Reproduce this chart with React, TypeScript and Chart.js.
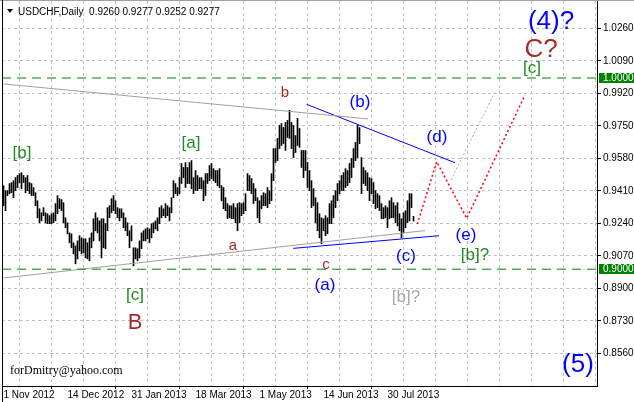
import React, { useEffect, useRef } from 'react';
import { Chart, registerables } from 'chart.js';

Chart.register(...registerables);

// ---------- data ----------
const barHigh = [
  0.9437, 0.9411, 0.9411, 0.9448, 0.9453, 0.9463, 0.9479, 0.9490, 0.9500, 0.9505,
  0.9490, 0.9479, 0.9490, 0.9453, 0.9448, 0.9427, 0.9400, 0.9358, 0.9316, 0.9295,
  0.9322, 0.9295, 0.9290, 0.9280, 0.9290, 0.9295, 0.9343, 0.9385, 0.9369, 0.9364,
  0.9348, 0.9269, 0.9243, 0.9190, 0.9185, 0.9138, 0.9122, 0.9148, 0.9175, 0.9164,
  0.9159, 0.9159, 0.9138, 0.9164, 0.9190, 0.9264, 0.9295, 0.9269, 0.9253, 0.9264,
  0.9264, 0.9238, 0.9322, 0.9332, 0.9369, 0.9385, 0.9358, 0.9322, 0.9316, 0.9316,
  0.9295, 0.9269, 0.9243, 0.9201, 0.9227, 0.9112, 0.9112, 0.9107, 0.9148, 0.9190,
  0.9201, 0.9211, 0.9217, 0.9211, 0.9238, 0.9243, 0.9253, 0.9269, 0.9322, 0.9332,
  0.9316, 0.9343, 0.9332, 0.9322, 0.9374, 0.9463, 0.9448, 0.9427, 0.9479, 0.9553,
  0.9532, 0.9558, 0.9532, 0.9558, 0.9568, 0.9479, 0.9516, 0.9490, 0.9479, 0.9479,
  0.9463, 0.9500, 0.9500, 0.9542, 0.9553, 0.9526, 0.9516, 0.9516, 0.9526, 0.9437,
  0.9427, 0.9374, 0.9343, 0.9332, 0.9332, 0.9343, 0.9322, 0.9343, 0.9348, 0.9343,
  0.9348, 0.9395, 0.9500, 0.9490, 0.9474, 0.9448, 0.9421, 0.9374, 0.9358, 0.9385,
  0.9400, 0.9395, 0.9427, 0.9411, 0.9500, 0.9631, 0.9631, 0.9684, 0.9752, 0.9762,
  0.9741, 0.9768, 0.9778, 0.9831, 0.9768, 0.9752, 0.9699, 0.9789, 0.9736, 0.9621,
  0.9621, 0.9621, 0.9558, 0.9516, 0.9463, 0.9421, 0.9374, 0.9348, 0.9290, 0.9269,
  0.9264, 0.9280, 0.9269, 0.9343, 0.9358, 0.9385, 0.9411, 0.9448, 0.9463, 0.9490,
  0.9505, 0.9526, 0.9516, 0.9553, 0.9579, 0.9631, 0.9663, 0.9752, 0.9741, 0.9584,
  0.9532, 0.9516, 0.9505, 0.9479, 0.9474, 0.9453, 0.9411, 0.9395, 0.9385, 0.9343,
  0.9322, 0.9332, 0.9322, 0.9358, 0.9374, 0.9348, 0.9332, 0.9348, 0.9290, 0.9264,
  0.9295, 0.9306, 0.9358, 0.9395, 0.9395, 0.9277,
];
const barLow = [
  0.9332, 0.9306, 0.9385, 0.9395, 0.9400, 0.9374, 0.9411, 0.9427, 0.9453, 0.9421,
  0.9453, 0.9400, 0.9411, 0.9395, 0.9385, 0.9385, 0.9332, 0.9269, 0.9243, 0.9253,
  0.9280, 0.9243, 0.9238, 0.9238, 0.9238, 0.9243, 0.9253, 0.9290, 0.9316, 0.9306,
  0.9243, 0.9217, 0.9185, 0.9138, 0.9112, 0.9080, 0.9028, 0.9054, 0.9096, 0.9080,
  0.9086, 0.9059, 0.9054, 0.9044, 0.9112, 0.9148, 0.9201, 0.9190, 0.9148, 0.9059,
  0.9112, 0.9107, 0.9201, 0.9269, 0.9295, 0.9306, 0.9290, 0.9269, 0.9253, 0.9269,
  0.9217, 0.9201, 0.9175, 0.9112, 0.9148, 0.9017, 0.9054, 0.9044, 0.9059, 0.9107,
  0.9148, 0.9148, 0.9159, 0.9138, 0.9164, 0.9190, 0.9211, 0.9201, 0.9238, 0.9269,
  0.9280, 0.9269, 0.9280, 0.9253, 0.9295, 0.9374, 0.9395, 0.9385, 0.9395, 0.9448,
  0.9479, 0.9427, 0.9448, 0.9448, 0.9421, 0.9395, 0.9411, 0.9411, 0.9421, 0.9421,
  0.9358, 0.9385, 0.9448, 0.9463, 0.9474, 0.9463, 0.9453, 0.9437, 0.9427, 0.9358,
  0.9316, 0.9306, 0.9264, 0.9269, 0.9264, 0.9264, 0.9243, 0.9201, 0.9243, 0.9280,
  0.9290, 0.9306, 0.9411, 0.9411, 0.9395, 0.9343, 0.9358, 0.9269, 0.9243, 0.9316,
  0.9332, 0.9332, 0.9322, 0.9343, 0.9358, 0.9463, 0.9558, 0.9568, 0.9631, 0.9647,
  0.9657, 0.9621, 0.9689, 0.9684, 0.9631, 0.9584, 0.9610, 0.9647, 0.9637, 0.9532,
  0.9479, 0.9516, 0.9427, 0.9411, 0.9322, 0.9332, 0.9243, 0.9201, 0.9164, 0.9133,
  0.9201, 0.9175, 0.9185, 0.9238, 0.9238, 0.9269, 0.9322, 0.9358, 0.9395, 0.9411,
  0.9411, 0.9427, 0.9437, 0.9453, 0.9479, 0.9532, 0.9568, 0.9584, 0.9657, 0.9395,
  0.9448, 0.9437, 0.9411, 0.9358, 0.9395, 0.9343, 0.9316, 0.9322, 0.9306, 0.9264,
  0.9264, 0.9269, 0.9217, 0.9264, 0.9269, 0.9269, 0.9243, 0.9227, 0.9201, 0.9164,
  0.9190, 0.9217, 0.9243, 0.9253, 0.9322, 0.9252,
];

const dateTickIndex = [0, 32, 64, 96, 128, 160, 192];
const dateTickLabels = ['1 Nov 2012', '14 Dec 2012', '31 Jan 2013', '18 Mar 2013', '1 May 2013', '14 Jun 2013', '30 Jul 2013'];
const priceTicks = [1.026, 1.009, 0.992, 0.975, 0.958, 0.941, 0.924, 0.907, 0.89, 0.873, 0.856];
const levelPrices = [1.0, 0.9];
const titleText = 'USDCHF,Daily  0.9260 0.9277 0.9252 0.9277';
const authorText = 'forDmitry@yahoo.com';

// trend / projection lines: bar index and price of their points
const grayUpperX = [0, 182.25];
const grayUpperY = [0.9969, 0.9786];
const grayLowerX = [0, 210.75];
const grayLowerY = [0.8954, 0.9202];
const blueUpperX = [151.6, 225.75];
const blueUpperY = [0.9862, 0.9557];
const blueLowerX = [144.9, 217.75];
const blueLowerY = [0.9109, 0.9175];
const redPathX = [206.9, 216.6, 231.6, 260.75];
const redPathY = [0.9236, 0.9562, 0.9266, 0.9911];
const grayPathX = [223.75, 245.75];
const grayPathY = [0.9467, 0.9927];

// wave labels: text, bar index, price
const waveText = ['(4)?', 'C?', '[c]', '(5)', '[b]', '[a]', 'b', '(b)', '(d)', 'a', 'c', '(a)', '(c)', '(e)', '[b]?', '[b]?', '[c]', 'B'];
const waveX = [273.75, 268.75, 264.25, 287.25, 9.25, 93.75, 140.75, 178.25, 216.75, 114.75, 161.25, 160.75, 201.25, 231.25, 235.75, 201.25, 65.75, 65.75];
const waveY = [1.0293, 1.0146, 1.0052, 0.8499, 0.9608, 0.966, 0.9922, 0.9874, 0.9691, 0.9121, 0.9022, 0.8917, 0.9069, 0.9179, 0.9074, 0.8855, 0.8865, 0.8719];

// ---------- styling / layout ----------
const W = 634;
const H = 402;
const PL = 2;
const PT = 1;
const PR = 597;
const PB = 386;
const PX_PER_UNIT = 1912;
const Y_ONE = 78;
const yMax = 1 + (Y_ONE - PT) / PX_PER_UNIT;
const yMin = 1 - (PB - Y_ONE) / PX_PER_UNIT;
const xMin = -0.75;
const xMax = xMin + (PR - PL) / 2;

const BLUE = '#0000ff';
const BROWN = '#a52a2a';
const GREEN = '#1f8a1f';
const SILVER = '#a9a9a9';
const waveColor = [BLUE, BROWN, GREEN, BLUE, GREEN, GREEN, BROWN, BLUE, BLUE, BROWN, BROWN, BLUE, BLUE, BLUE, GREEN, SILVER, GREEN, BROWN];
const waveSize = [26, 26, 17, 26, 17, 17, 15, 17, 17, 15, 15, 17, 17, 17, 17, 17, 17, 22];
const FONT = '"Liberation Sans", Arial, sans-serif';

const pts = (xs: number[], ys: number[]) => xs.map((x, k) => ({ x, y: ys[k] }));

const lineDs = (xs: number[], ys: number[], color: string, width: number, dash: number[]) => ({
  type: 'line' as const,
  data: pts(xs, ys),
  borderColor: color,
  borderWidth: width,
  borderDash: dash,
  pointRadius: 0,
  fill: false,
  tension: 0,
  order: 0,
});

const decorPlugin = {
  id: 'decor',
  beforeDraw(chart: any) {
    const { ctx } = chart;
    ctx.save();
    ctx.fillStyle = '#ffffff';
    ctx.fillRect(0, 0, W, H);
    ctx.restore();
  },
  afterDatasetsDraw(chart: any) {
    const { ctx, scales } = chart;
    const xs = scales.x;
    const ys = scales.y;
    ctx.save();
    ctx.textAlign = 'center';
    ctx.textBaseline = 'middle';
    waveText.forEach((t, k) => {
      ctx.font = `${waveSize[k]}px ${FONT}`;
      ctx.fillStyle = waveColor[k];
      ctx.fillText(t, xs.getPixelForValue(waveX[k]), ys.getPixelForValue(waveY[k]));
    });
    ctx.restore();
  },
  afterDraw(chart: any) {
    const { ctx, scales, chartArea } = chart;
    const ys = scales.y;
    ctx.save();
    // window frame lines
    ctx.strokeStyle = '#a0a0a0';
    ctx.lineWidth = 1;
    ctx.beginPath();
    ctx.moveTo(0, 0.5);
    ctx.lineTo(W, 0.5);
    ctx.stroke();
    ctx.strokeStyle = '#000';
    ctx.beginPath();
    ctx.moveTo(chartArea.left + 0.5, 0);
    ctx.lineTo(chartArea.left + 0.5, H);
    ctx.stroke();
    // level boxes on the price axis
    levelPrices.forEach((p) => {
      const py = Math.round(ys.getPixelForValue(p));
      ctx.fillStyle = '#008000';
      ctx.fillRect(chartArea.right + 2, py - 5, W - chartArea.right - 2, 10);
      ctx.fillStyle = '#ffffff';
      ctx.font = `10px ${FONT}`;
      ctx.textAlign = 'left';
      ctx.textBaseline = 'middle';
      ctx.fillText(p.toFixed(4), chartArea.right + 6, py + 0.5);
    });
    // title
    ctx.fillStyle = '#000';
    ctx.beginPath();
    ctx.moveTo(7, 9);
    ctx.lineTo(13, 9);
    ctx.lineTo(10, 13);
    ctx.closePath();
    ctx.fill();
    ctx.font = `10px ${FONT}`;
    ctx.textAlign = 'left';
    ctx.textBaseline = 'alphabetic';
    ctx.fillText(titleText, 18, 15);
    // author
    ctx.font = '12px "Liberation Serif", "Times New Roman", serif';
    ctx.fillText(authorText, 10, 374);
    ctx.restore();
  },
};

export default function App() {
  const ref = useRef<HTMLCanvasElement | null>(null);

  useEffect(() => {
    if (!ref.current) return;
    const bars = barHigh.map((h, i) => ({ x: i, y: [barLow[i], h] }));
    const chart = new Chart(ref.current, {
      type: 'bar',
      data: {
        datasets: [
          {
            type: 'bar',
            data: bars as any,
            backgroundColor: '#000000',
            borderWidth: 0,
            barThickness: 1,
            order: 1,
          } as any,
          ...levelPrices.map((p) => lineDs([xMin, xMax], [p, p], '#008000', 1, [9, 6])),
          lineDs(grayUpperX, grayUpperY, '#a0a0a0', 1, []),
          lineDs(grayLowerX, grayLowerY, '#a0a0a0', 1, []),
          lineDs(blueUpperX, blueUpperY, BLUE, 1, []),
          lineDs(blueLowerX, blueLowerY, BLUE, 1, []),
          lineDs(grayPathX, grayPathY, '#a8a8a8', 1, [2, 2]),
          lineDs(redPathX, redPathY, '#ff0000', 1.5, [2, 2.5]),
        ] as any,
      },
      options: {
        animation: false,
        responsive: false,
        maintainAspectRatio: false,
        devicePixelRatio: 1,
        layout: { padding: { left: PL, top: PT, right: 0, bottom: 0 } },
        plugins: { legend: { display: false }, tooltip: { enabled: false }, title: { display: false } },
        scales: {
          x: {
            type: 'linear',
            min: xMin,
            max: xMax,
            offset: false,
            afterBuildTicks: (s: any) => {
              const t: any[] = [];
              for (let v = 0; v <= xMax; v += 16) t.push({ value: v });
              s.ticks = t;
            },
            afterFit: (s: any) => {
              s.height = H - PB;
              s.paddingLeft = 0;
              s.paddingRight = 0;
            },
            ticks: {
              autoSkip: false,
              maxRotation: 0,
              minRotation: 0,
              align: 'start',
              padding: 0,
              color: '#000',
              font: { family: FONT, size: 10 },
              callback: (v: any) => {
                const k = dateTickIndex.indexOf(Number(v));
                return k >= 0 ? dateTickLabels[k] : '';
              },
            },
            grid: {
              color: '#c0c0c0',
              lineWidth: 1,
              drawTicks: true,
              tickLength: 3,
              tickWidth: 1,
              tickColor: (c: any) => (c.tick && dateTickIndex.includes(c.tick.value) ? '#000' : 'rgba(0,0,0,0)'),
            },
            border: { display: true, color: '#000', width: 1, dash: [3, 3] },
          },
          y: {
            type: 'linear',
            position: 'right',
            min: yMin,
            max: yMax,
            afterBuildTicks: (s: any) => {
              s.ticks = priceTicks.map((v) => ({ value: v }));
            },
            afterFit: (s: any) => {
              s.width = W - PR;
              s.paddingTop = 0;
              s.paddingBottom = 0;
            },
            ticks: {
              autoSkip: false,
              padding: 2,
              color: '#000',
              font: { family: FONT, size: 10 },
              callback: (v: any) => Number(v).toFixed(4),
            },
            grid: { color: '#c0c0c0', lineWidth: 1, drawTicks: true, tickLength: 4, tickColor: '#000' },
            border: { display: true, color: '#000', width: 1, dash: [3, 3] },
          },
        },
      } as any,
      plugins: [decorPlugin],
    });
    return () => chart.destroy();
  }, []);

  return (
    <div style={{ position: 'absolute', left: 0, top: 0, width: W, height: H, background: '#fff' }}>
      <canvas ref={ref} width={W} height={H} style={{ width: W, height: H, display: 'block' }} />
    </div>
  );
}
